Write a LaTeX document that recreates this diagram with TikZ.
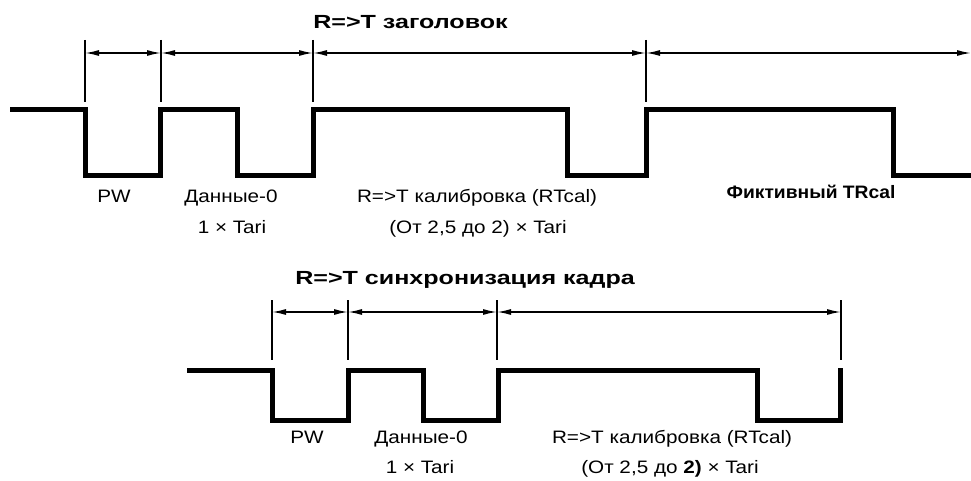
\documentclass[tikz,border=0pt]{standalone}
\usepackage{fontspec}
\setmainfont{Liberation Sans}
\usetikzlibrary{arrows.meta}
\begin{document}
\begin{tikzpicture}[x=1pt,y=-1pt,
  wave/.style={line width=5pt, line join=miter, line cap=butt},
  ticky/.style={line width=1.6pt},
  dimarrow/.style={line width=1.5pt, {Latex[length=14pt,width=6pt]}-{Latex[length=14pt,width=6pt]}},
  lbl/.style={font=\fontsize{18}{21}\selectfont, anchor=base, inner sep=0pt, xscale=1.15},
  lblb/.style={font=\bfseries\fontsize{18}{21}\selectfont, anchor=base, inner sep=0pt, xscale=1.07},
  ttl/.style={font=\bfseries\fontsize{19}{22}\selectfont, anchor=base west, inner sep=0pt, xscale=1.32}]
\useasboundingbox (0,0) rectangle (971,481);

% ---------- top waveform ----------
\draw[wave] (10,110) -- (85,110) -- (85,176) -- (160,176) -- (160,110) -- (237,110)
  -- (237,176) -- (313,176) -- (313,110) -- (567,110) -- (567,176) -- (646,176)
  -- (646,110) -- (893,110) -- (893,176) -- (971,176);

% tick lines
\foreach \n/\x in {a/85, b/161, c/313, d/646} {
  \coordinate (t\n top) at (\x,40);
  \coordinate (t\n bot) at (\x,102);
  \coordinate (t\n) at (\x,53);
  \draw[ticky] (t\n top) -- (t\n bot);
}
\coordinate (tend) at (971,53);
\draw[dimarrow] (ta) -- (tb);
\draw[dimarrow] (tb) -- (tc);
\draw[dimarrow] (tc) -- (td);
\draw[dimarrow] (td) -- (tend);

\node[ttl] (ttitle) at (313,29) {R=>T заголовок};
\node[lbl] (tpw) at (114,202) {PW};
\node[lbl] (tdata) at (231,202) {Данные-0};
\node[lbl] (ttari) at (232,233) {1 × Tari};
\node[lbl] (tcal) at (477,202) {R=>T калибровка (RTcal)};
\node[lbl] (tcal2) at (478,233) {(От 2,5 до 2) × Tari};
\node[lblb] (tfict) at (811,199) {Фиктивный TRcal};

% ---------- bottom waveform ----------
\draw[wave] (187,370) -- (272,370) -- (272,420) -- (348,420) -- (348,370) -- (423,370)
  -- (423,420) -- (498,420) -- (498,370) -- (757,370) -- (757,420) -- (840,420)
  -- (840,368);

\foreach \n/\x in {a/272, b/348, c/497, d/841} {
  \coordinate (b\n top) at (\x,300);
  \coordinate (b\n bot) at (\x,360);
  \coordinate (b\n) at (\x,312);
  \draw[ticky] (b\n top) -- (b\n bot);
}
\draw[dimarrow] (ba) -- (bb);
\draw[dimarrow] (bb) -- (bc);
\draw[dimarrow] (bc) -- (bd);

\node[ttl] (btitle) at (295,284) {R=>T синхронизация кадра};
\node[lbl] (bpw) at (307,443) {PW};
\node[lbl] (bdata) at (421,443) {Данные-0};
\node[lbl] (btari) at (420,473) {1 × Tari};
\node[lbl] (bcal) at (672,443) {R=>T калибровка (RTcal)};
\node[lbl] (bcal2) at (670,473) {(От 2,5 до \textbf{2)} × Tari};
\end{tikzpicture}
\end{document}
